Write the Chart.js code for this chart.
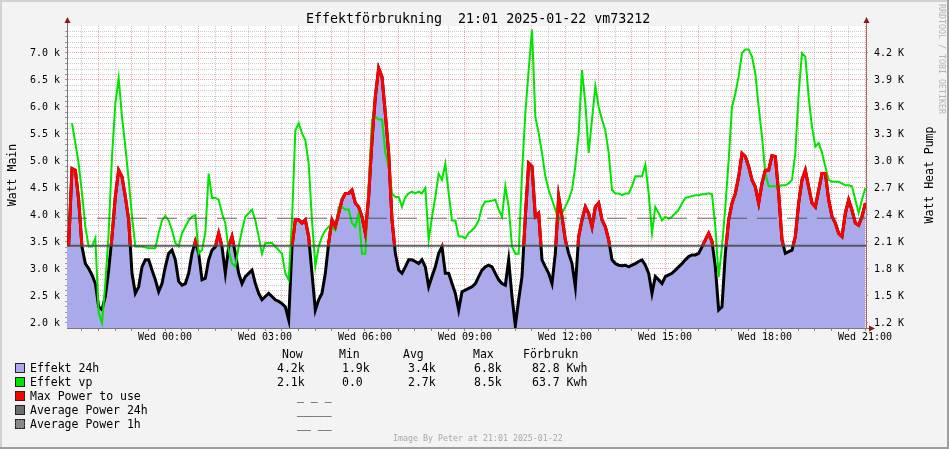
<!DOCTYPE html>
<html>
<head>
<meta charset="utf-8">
<script src="https://cdn.jsdelivr.net/npm/chart.js@4/dist/chart.umd.min.js"></script>
<style>
html,body{margin:0;padding:0;background:#f3f3f3;}
body{width:949px;height:449px;overflow:hidden;}
#wrap{position:relative;width:949px;height:449px;background:#f3f3f3;overflow:hidden;}
#c{position:absolute;left:0;top:0;}
.t{position:absolute;font-family:"DejaVu Sans Mono",monospace;white-space:pre;color:#000;}
.sw{position:absolute;width:8px;height:8px;box-sizing:content-box;}
.edge{position:absolute;}
</style>
</head>
<body>
<div id="wrap">
  <canvas id="c" width="949" height="449"></canvas>
  <div class="edge" style="left:0;top:0;width:949px;height:2px;background:#d2d2d2"></div>
  <div class="edge" style="left:0;top:0;width:2px;height:449px;background:#d2d2d2"></div>
  <div class="edge" style="left:0;top:447px;width:949px;height:2px;background:#9e9e9e"></div>
  <div class="edge" style="left:947px;top:0;width:2px;height:449px;background:#9e9e9e"></div>
  <div class="t" style="left:306px;top:11px;font-size:13.3px;line-height:16px;">Effektförbrukning  21:01 2025-01-22 vm73212</div>
  <div class="t" style="left:12px;top:175px;font-size:11.5px;line-height:14px;transform:translate(-50%,-50%) rotate(-90deg);">Watt Main</div>
  <div class="t" style="left:929px;top:175px;font-size:11.5px;line-height:14px;transform:translate(-50%,-50%) rotate(-90deg);">Watt Heat Pump</div>
  <div class="t" style="left:942px;top:59px;font-size:8.3px;line-height:10px;color:#b4b4b4;transform:translate(-50%,-50%) rotate(90deg);">RRDTOOL / TOBI OETIKER</div>
  <div class="t" style="left:393px;top:433px;font-size:8.3px;line-height:10px;color:#a8a8a8;">Image By Peter at 21:01 2025-01-22</div>
  <div id="legend"></div>
</div>
<script>
// ---- time axis (hours after Tue 21:00), one sample every 6 minutes ----
const firstHour = -0.09;
const stepHour = 0.1;
const xTickLabels = ['Wed 00:00','Wed 03:00','Wed 06:00','Wed 09:00','Wed 12:00','Wed 15:00','Wed 18:00','Wed 21:00'];
const leftTickLabels = ['2.0 k','2.5 k','3.0 k','3.5 k','4.0 k','4.5 k','5.0 k','5.5 k','6.0 k','6.5 k','7.0 k'];
const rightTickLabels = ['1.2 K','1.5 K','1.8 K','2.1 K','2.4 K','2.7 K','3.0 K','3.3 K','3.6 K','3.9 K','4.2 K'];

// ---- series (kW on the main axis) ----
const effekt24h = [
 3.45,3.45,3.45,4.86,4.83,4.28,3.41,3.10,3.01,2.89,
 2.73,2.30,2.25,2.49,2.98,3.60,4.34,4.83,4.71,4.34,
 3.91,2.92,2.55,2.67,3.04,3.17,3.17,2.98,2.80,2.58,
 2.73,3.04,3.29,3.35,3.17,2.77,2.70,2.73,2.92,3.29,
 3.51,3.29,2.80,2.83,3.17,3.35,3.41,3.66,3.41,2.92,
 3.41,3.60,3.29,2.92,2.73,2.86,2.92,2.98,2.73,2.55,
 2.43,2.49,2.55,2.49,2.43,2.40,2.36,2.30,2.06,3.41,
 3.91,3.91,3.85,3.91,3.60,2.92,2.24,2.43,2.55,2.92,
 3.48,3.91,3.78,4.03,4.28,4.40,4.40,4.46,4.22,4.15,
 3.97,3.66,4.34,5.39,6.19,6.72,6.56,5.88,5.14,3.91,
 3.29,2.98,2.92,3.04,3.17,3.17,3.14,3.10,3.17,3.04,
 2.67,2.86,3.04,3.29,3.41,2.92,2.92,2.73,2.55,2.24,
 2.58,2.61,2.64,2.67,2.73,2.86,2.98,3.04,3.07,3.04,
 2.92,2.80,2.73,2.70,3.17,2.49,1.95,2.43,2.86,3.97,
 4.96,4.90,3.97,4.03,3.17,3.04,2.92,2.73,3.29,4.34,
 3.97,3.54,3.29,3.10,2.67,3.60,3.91,4.15,4.03,3.78,
 4.15,4.22,3.91,3.78,3.54,3.17,3.10,3.07,3.06,3.07,
 3.04,3.07,3.10,3.14,3.17,3.07,2.92,2.55,2.86,2.80,
 2.73,2.86,2.89,2.92,2.98,3.04,3.10,3.17,3.23,3.26,
 3.26,3.29,3.41,3.54,3.66,3.51,3.04,2.24,2.30,3.29,
 3.91,4.22,4.40,4.71,5.14,5.08,4.90,4.65,4.52,4.22,
 4.59,4.83,4.83,5.10,5.08,4.40,3.54,3.29,3.32,3.35,
 3.60,4.22,4.65,4.83,4.52,4.22,4.15,4.46,4.77,4.77,
 4.28,3.97,3.85,3.66,3.60,4.03,4.28,4.09,3.85,3.81,
 3.97,4.22
];
// heat pump (K on the right axis)
const effektVp = [
 null,null,null,3.42,3.20,2.97,2.64,2.27,2.05,2.05,
 2.14,1.31,1.20,1.64,2.20,3.05,3.64,3.92,3.49,3.16,
 2.79,2.38,2.05,2.05,2.05,2.04,2.03,2.03,2.03,2.20,
 2.34,2.39,2.34,2.23,2.09,2.05,2.20,2.27,2.34,2.38,
 2.40,1.97,2.01,2.20,2.86,2.59,2.59,2.57,2.42,2.31,
 2.01,1.86,1.83,2.05,2.23,2.38,2.42,2.46,2.34,2.16,
 1.97,2.09,2.09,2.09,2.05,2.01,1.97,1.75,1.68,2.34,
 3.34,3.42,3.31,3.23,2.97,2.34,1.83,2.05,2.16,2.23,
 2.27,2.27,2.23,2.49,2.49,2.46,2.46,2.31,2.27,2.42,
 1.97,1.97,2.72,3.46,3.49,3.46,3.46,3.09,2.94,2.64,
 2.60,2.60,2.49,2.60,2.64,2.66,2.64,2.66,2.64,2.70,
 2.12,2.38,2.60,2.86,2.79,2.97,2.64,2.34,2.34,2.16,
 2.16,2.14,2.20,2.23,2.27,2.34,2.49,2.55,2.55,2.56,
 2.57,2.46,2.38,2.72,2.49,2.05,1.97,1.97,2.86,3.53,
 4.01,4.46,3.49,3.31,3.09,2.83,2.68,2.57,2.46,2.34,
 2.42,2.49,2.57,2.68,2.94,3.31,4.01,3.64,3.09,3.46,
 3.83,3.60,3.46,3.34,3.09,2.68,2.64,2.64,2.62,2.64,
 2.64,2.72,2.83,2.83,2.83,2.96,2.64,2.20,2.49,2.42,
 2.34,2.38,2.36,2.38,2.42,2.46,2.53,2.59,2.60,2.61,
 2.62,2.62,2.63,2.63,2.64,2.63,2.27,1.71,2.05,2.49,
 3.01,3.60,3.75,3.94,4.20,4.24,4.24,4.16,3.97,3.60,
 3.27,2.86,2.72,2.72,2.72,2.72,2.73,2.73,2.75,2.79,
 3.09,3.75,4.20,4.16,3.71,3.38,3.16,3.20,3.09,2.94,
 2.79,2.77,2.77,2.77,2.75,2.73,2.73,2.72,2.57,2.42,
 2.57,2.70
];
const avgPower24h = 3.43;
const avgPower1h = 3.94;

// legend statistics
const statHeaders = ['Now','Min','Avg','Max','Förbrukn'];
const statsEffekt24h = ['4.2k','1.9k','3.4k','6.8k','82.8 Kwh'];
const statsEffektVp = ['2.1k','0.0','2.7k','8.5k','63.7 Kwh'];
const ruleMarks = ['_ _ _','_____','__ __'];

// ---- styles ----
const AREA = 'rgb(170,170,234)';
const GREEN = '#00e400';
const RED = '#ff0000';
const X_MIN = 0.06, X_MAX = 24.03;
const Y_MIN = 1.9074, Y_MAX = 7.5;
const RATIO = 0.6;
const MONO = '"DejaVu Sans Mono", monospace';

const hours = effekt24h.map((_, i) => +(firstHour + i * stepHour).toFixed(2));
const pts = arr => arr.map((v, i) => ({x: hours[i], y: v}));

const bgPlugin = {
  id: 'bg',
  beforeDraw(chart) {
    const {ctx, chartArea: a} = chart;
    ctx.save();
    ctx.fillStyle = '#ffffff';
    ctx.fillRect(a.left, a.top, a.right - a.left, a.bottom - a.top);
    ctx.restore();
  }
};
const clipPlugin = {
  id: 'clipRed',
  beforeDatasetDraw(chart, args) {
    if (args.index !== 2) return;
    const {ctx, chartArea: a} = chart;
    const yThr = chart.scales.y.getPixelForValue(avgPower24h);
    ctx.save();
    ctx.beginPath();
    ctx.rect(a.left, a.top - 5, a.right - a.left, yThr - a.top + 5);
    ctx.clip();
  },
  afterDatasetDraw(chart, args) {
    if (args.index !== 2) return;
    chart.ctx.restore();
  }
};
const arrowPlugin = {
  id: 'arrows',
  afterDraw(chart) {
    const {ctx, chartArea: a} = chart;
    ctx.save();
    ctx.lineWidth = 1;
    ctx.strokeStyle = '#777';
    ctx.beginPath();
    ctx.moveTo(a.left + 0.5, a.top); ctx.lineTo(a.left + 0.5, a.top - 5);
    ctx.moveTo(a.right, a.bottom + 0.5); ctx.lineTo(a.right + 4, a.bottom + 0.5);
    ctx.stroke();
    ctx.strokeStyle = '#a06a6a';
    ctx.beginPath();
    ctx.moveTo(a.right + 0.5, a.top); ctx.lineTo(a.right + 0.5, a.top - 5);
    ctx.stroke();
    ctx.fillStyle = '#8c1c1c';
    const tri = (p) => { ctx.beginPath(); ctx.moveTo(p[0], p[1]); ctx.lineTo(p[2], p[3]); ctx.lineTo(p[4], p[5]); ctx.closePath(); ctx.fill(); };
    tri([a.left + 0.5, a.top - 9, a.left - 2.5, a.top - 3, a.left + 3.5, a.top - 3]);
    tri([a.right + 0.5, a.top - 9, a.right - 2.5, a.top - 3, a.right + 3.5, a.top - 3]);
    tri([a.right + 9, a.bottom + 0.5, a.right + 3, a.bottom - 2.5, a.right + 3, a.bottom + 3.5]);
    ctx.restore();
  }
};

const redGrid = 'rgba(235,90,90,0.55)';
const greyGrid = 'rgba(140,140,140,0.45)';

new Chart(document.getElementById('c'), {
  type: 'line',
  data: {
    datasets: [
      {label: 'Effekt 24h', data: pts(effekt24h), borderColor: '#000', borderWidth: 3, backgroundColor: AREA, fill: 'start', yAxisID: 'y', order: 5},
      {label: 'Effekt vp', data: pts(effektVp), borderColor: GREEN, borderWidth: 2, fill: false, yAxisID: 'y1', order: 4, spanGaps: false},
      {label: 'Max Power to use', data: pts(effekt24h), borderColor: RED, borderWidth: 3, fill: false, yAxisID: 'y', order: 3},
      {label: 'Average Power 24h', data: [{x: X_MIN, y: avgPower24h}, {x: X_MAX, y: avgPower24h}], borderColor: 'rgba(70,70,70,0.85)', borderWidth: 2, fill: false, yAxisID: 'y', order: 2},
      {label: 'Average Power 1h', data: [{x: X_MIN, y: avgPower1h}, {x: X_MAX, y: avgPower1h}], borderColor: 'rgba(70,70,70,0.85)', borderWidth: 1, borderDash: [20, 10], fill: false, yAxisID: 'y', order: 1}
    ]
  },
  options: {
    responsive: false,
    animation: false,
    devicePixelRatio: 1,
    layout: {padding: {left: 0, right: 0, top: 26, bottom: 101}},
    plugins: {legend: {display: false}, tooltip: {enabled: false}, title: {display: false}},
    elements: {point: {radius: 0, hoverRadius: 0}, line: {tension: 0, borderCapStyle: 'butt', borderJoinStyle: 'miter'}},
    scales: {
      x: {
        type: 'linear', min: X_MIN, max: X_MAX, offset: false,
        afterBuildTicks: s => { const t = []; for (let i = 1; i <= 48; i++) t.push({value: i / 2}); s.ticks = t; },
        afterFit: s => { s.height = 20; },
        ticks: {
          autoSkip: false, maxRotation: 0, minRotation: 0, padding: 0,
          color: '#000', font: {family: MONO, size: 10},
          callback: v => { const i = Math.round(v * 2); return i % 6 === 0 ? xTickLabels[i / 6 - 1] : ''; }
        },
        grid: {
          color: c => (Math.round(c.tick.value * 2) % 2 === 0 ? redGrid : greyGrid),
          lineWidth: 1, drawTicks: true, tickLength: 3, tickColor: '#888', tickBorderDash: []
        },
        border: {display: true, color: '#777', width: 1, dash: [1, 1]}
      },
      y: {
        type: 'linear', position: 'left', min: Y_MIN, max: Y_MAX,
        afterBuildTicks: s => { const t = []; for (let i = 20; i <= 74; i++) t.push({value: i / 10}); s.ticks = t; },
        afterFit: s => { s.width = 67; },
        ticks: {
          autoSkip: false, padding: 5, color: '#000', font: {family: MONO, size: 10},
          callback: v => { const i = Math.round(v * 10); return i % 5 === 0 ? leftTickLabels[(i - 20) / 5] : ''; }
        },
        grid: {
          color: c => (Math.round(c.tick.value * 10) % 5 === 0 ? redGrid : greyGrid),
          lineWidth: 1, drawTicks: true, tickLength: 2, tickColor: '#999', tickBorderDash: []
        },
        border: {display: true, color: '#777', width: 1, dash: [1, 1]}
      },
      y1: {
        type: 'linear', position: 'right', min: Y_MIN * RATIO, max: Y_MAX * RATIO,
        afterBuildTicks: s => { const t = []; for (let i = 0; i <= 10; i++) t.push({value: (12 + 3 * i) / 10}); s.ticks = t; },
        afterFit: s => { s.width = 83; },
        ticks: {
          autoSkip: false, padding: 6, color: '#000', font: {family: MONO, size: 10},
          callback: v => { const i = Math.round((v * 10 - 12) / 3); return rightTickLabels[i]; }
        },
        grid: {drawOnChartArea: false, drawTicks: true, tickLength: 2, color: '#c88', tickColor: '#c88'},
        border: {display: true, color: '#a06a6a', width: 1}
      }
    }
  },
  plugins: [bgPlugin, clipPlugin, arrowPlugin]
});

// ---- legend (HTML text) ----
const legend = document.getElementById('legend');
function addText(txt, left, cy, size, color) {
  const d = document.createElement('div');
  d.className = 't';
  d.textContent = txt;
  d.style.left = left + 'px';
  d.style.top = (cy - 7) + 'px';
  d.style.fontSize = (size || 11.5) + 'px';
  d.style.lineHeight = '14px';
  if (color) d.style.color = color;
  legend.appendChild(d);
}
function addSwatch(cy, bg, border) {
  const d = document.createElement('div');
  d.className = 'sw';
  d.style.left = '15px';
  d.style.top = (cy - 5) + 'px';
  d.style.background = bg;
  d.style.border = border;
  legend.appendChild(d);
}
const headX = [282, 339, 403, 473, 523];
const valX = [277, 342, 408, 474, 532];
statHeaders.forEach((h, i) => addText(h, headX[i], 354));
const rows = [
  {name: 'Effekt 24h', bg: AREA, border: '1px solid #222', stats: statsEffekt24h},
  {name: 'Effekt vp', bg: GREEN, border: '1px solid #222', stats: statsEffektVp},
  {name: 'Max Power to use', bg: RED, border: '1px dashed #222', rule: ruleMarks[0]},
  {name: 'Average Power 24h', bg: '#6e6e6e', border: '1px solid #222', rule: ruleMarks[1]},
  {name: 'Average Power 1h', bg: '#8a8a8a', border: '1px dashed #222', rule: ruleMarks[2]}
];
rows.forEach((r, k) => {
  const cy = 368 + 14 * k;
  addSwatch(cy, r.bg, r.border);
  addText(r.name, 30, cy);
  if (r.stats) r.stats.forEach((s, i) => addText(s, valX[i], cy));
  if (r.rule) addText(r.rule, 297, cy);
});
</script>
</body>
</html>
